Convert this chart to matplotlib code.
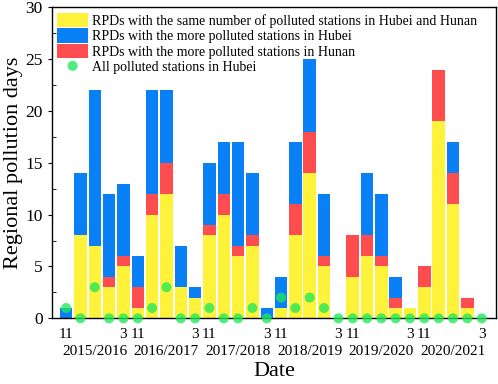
import numpy as np
import matplotlib
matplotlib.use("Agg")
import matplotlib.pyplot as plt
from matplotlib.ticker import MultipleLocator
from matplotlib.transforms import blended_transform_factory

plt.rcParams['font.family'] = ['Liberation Serif', 'DejaVu Serif']

# months Nov..Mar for each winter season
months = ['11', '12', '1', '2', '3'] * 6
seasons = ['2015/2016', '2016/2017', '2017/2018', '2018/2019', '2019/2020', '2020/2021']

# regional pollution days per month
same_num = [0, 8, 7, 3, 5, 1, 10, 12, 3, 2, 8, 10, 6, 7, 0,
            1, 8, 14, 5, 0, 4, 6, 5, 1, 1, 3, 19, 11, 1, 0]
more_hunan = [0, 0, 0, 1, 1, 2, 2, 3, 0, 0, 1, 2, 1, 1, 0,
              0, 3, 4, 1, 0, 4, 2, 1, 1, 0, 2, 5, 3, 1, 0]
more_hubei = [1, 6, 15, 8, 7, 3, 10, 7, 4, 1, 6, 5, 10, 6, 1,
              3, 6, 7, 6, 0, 0, 6, 6, 2, 0, 0, 0, 3, 0, 0]
all_hubei = [1, 0, 3, 0, 0, 0, 1, 3, 0, 0, 1, 0, 0, 1, 0,
             2, 1, 2, 1, 0, 0, 0, 0, 0, 0, 0, 0, 0, 0, 0]

c_yellow = '#FFF23A'
c_blue = '#0A80F7'
c_red = '#FF4D4F'
c_green = '#1FE85A'

x = np.arange(len(months))
same_num = np.array(same_num)
more_hunan = np.array(more_hunan)
more_hubei = np.array(more_hubei)

fig = plt.figure(figsize=(4.98, 3.84), dpi=100)
ax = fig.add_axes([0.104, 0.171, 0.892, 0.810])

w = 0.87
b1 = ax.bar(x, same_num, w, color=c_yellow,
            label='RPDs with the same number of polluted stations in Hubei and Hunan')
b2 = ax.bar(x, more_hubei, w, bottom=same_num + more_hunan, color=c_blue,
            label='RPDs with the more polluted stations in Hubei')
b3 = ax.bar(x, more_hunan, w, bottom=same_num, color=c_red,
            label='RPDs with the more polluted stations in Hunan')
sc = ax.scatter(x, all_hubei, s=52, color=c_green, alpha=0.78, edgecolors='none',
                zorder=3, clip_on=False, label='All polluted stations in Hubei')

ax.set_xlim(-1, 30)
ax.set_ylim(0, 30)
ax.yaxis.set_major_locator(MultipleLocator(5))
ax.yaxis.set_minor_locator(MultipleLocator(2.5))
ax.tick_params(axis='y', which='major', direction='out', length=3, labelsize=12.5)
ax.tick_params(axis='y', which='minor', direction='in', length=3)

# only Nov and Mar are labelled
tick_pos = [i for i, m in enumerate(months) if m in ('11', '3')]
ax.set_xticks(tick_pos)
ax.set_xticklabels([months[i] for i in tick_pos])
ax.tick_params(axis='x', length=0, labelsize=11, pad=7)

trans = blended_transform_factory(ax.transData, ax.transAxes)
for k, s in enumerate(seasons):
    ax.text(5 * k + 2, -0.108, s, transform=trans, ha='center', va='center',
            fontsize=11)

ax.set_xlabel('Date', fontsize=16, labelpad=15)
ax.set_ylabel('Regional pollution days', fontsize=16, labelpad=2)

for sp in ax.spines.values():
    sp.set_linewidth(1.0)

ax.legend(handles=[b1, b2, b3, sc], loc='upper left', bbox_to_anchor=(0.0, 1.0),
          frameon=False, fontsize=10, handlelength=2.2, handleheight=1.2,
          labelspacing=0.05, handletextpad=0.3, borderaxespad=0.15, borderpad=0.25)

plt.savefig('out.png', dpi=100)
